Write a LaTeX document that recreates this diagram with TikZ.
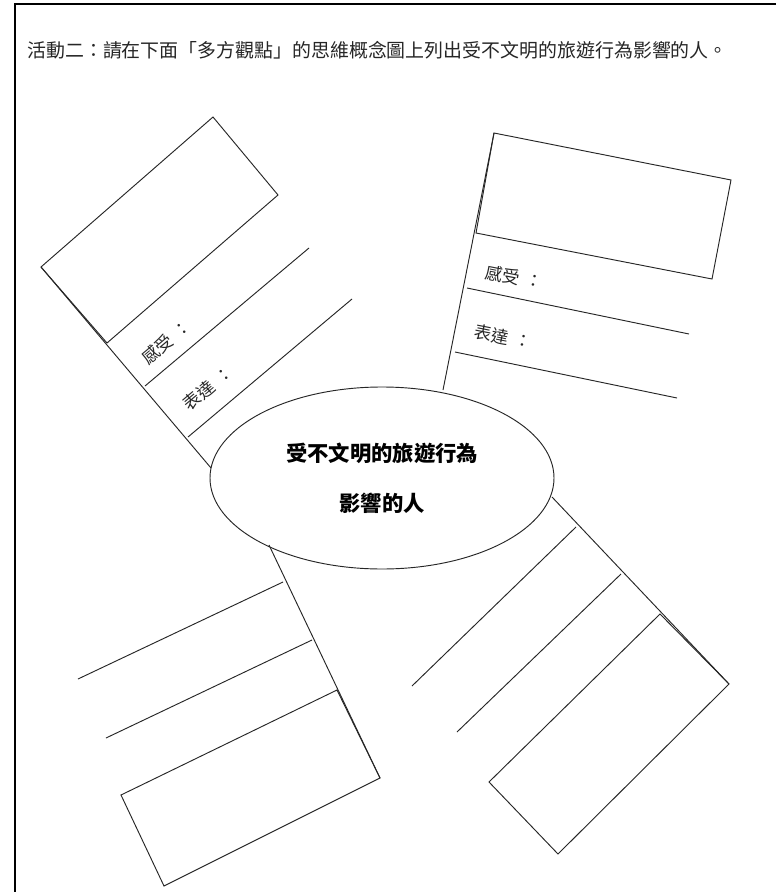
\documentclass[tikz,border=0pt]{standalone}
\usepackage{fontspec}
\newfontfamily\cjk{Noto Sans CJK TC}
\usetikzlibrary{shapes.geometric}
\tikzset{
  shape line/.style={draw=black!85, line width=0.7pt, line join=miter},
  label text/.style={font=\cjk\fontsize{13}{15}\selectfont, text=black!85, inner sep=0pt},
  frame line/.style={draw=black, line width=1.6pt}
}
\begin{document}
\begin{tikzpicture}[x=0.75pt, y=-0.75pt]
\useasboundingbox (0,0) rectangle (776,892);
\fill[white] (0,0) rectangle (776,892);
% frame
\coordinate (ftl) at (15,4);
\coordinate (ftr) at (776,4);
\coordinate (fbl) at (15,892);
\draw[frame line] (ftr) -- (ftl) -- (fbl);
% title
\node[anchor=west, inner sep=0pt, font=\cjk\fontsize{14.2}{16}\selectfont, text=black!85] (title) at (27,50)
  {活動二：請在下面「多方觀點」的思維概念圖上列出受不文明的旅遊行為影響的人。};
% central ellipse
\node[ellipse, shape line, minimum width=258pt, minimum height=136.5pt, inner sep=0pt,
      align=center, font=\cjk\bfseries\fontsize{16}{37.5}\selectfont] (center) at (382,478)
  {受不文明的旅遊行為\\影響的人};

% ---------- upper-left ----------
\coordinate (ula) at (41,267);
\coordinate (ulb) at (213,117);
\coordinate (ulc) at (278,195);
\coordinate (uld) at (107,343);
\coordinate (ule) at (211,468);
\coordinate (ul1a) at (145,386);
\coordinate (ul1b) at (309,248);
\coordinate (ul2a) at (188,437);
\coordinate (ul2b) at (352,299);
\draw[shape line] (ula) -- (ulb) -- (ulc) -- (uld) -- cycle;
\draw[shape line] (ula) -- (ule);
\draw[shape line] (ul1a) -- (ul1b);
\draw[shape line] (ul2a) -- (ul2b);
\node[label text, rotate=40] (ulfeel) at (166,342) {感受\hspace{0.35em}：};
\node[label text, rotate=40] (ulsay) at (208,388) {表達\hspace{0.35em}：};

% ---------- upper-right ----------
\coordinate (ura) at (494,133);
\coordinate (urb) at (731,180);
\coordinate (urc) at (712,279);
\coordinate (urd) at (476,233);
\coordinate (ure) at (443,390);
\coordinate (ur1a) at (467,288);
\coordinate (ur1b) at (689,334);
\coordinate (ur2a) at (455,352);
\coordinate (ur2b) at (677,398);
\draw[shape line] (ura) -- (urb) -- (urc) -- (urd) -- cycle;
\draw[shape line] (ura) -- (ure);
\draw[shape line] (ur1a) -- (ur1b);
\draw[shape line] (ur2a) -- (ur2b);
\node[label text, rotate=-11] (urfeel) at (514,277) {感受\hspace{0.35em}：};
\node[label text, rotate=-11] (ursay) at (503,337) {表達\hspace{0.35em}：};

% ---------- lower-left ----------
\coordinate (lla) at (337,690);
\coordinate (llb) at (380,778);
\coordinate (llc) at (164,886);
\coordinate (lld) at (121,795);
\coordinate (lle) at (269,545);
\coordinate (ll1a) at (283,582);
\coordinate (ll1b) at (78,679);
\coordinate (ll2a) at (312,640);
\coordinate (ll2b) at (106,738);
\draw[shape line] (lla) -- (llb) -- (llc) -- (lld) -- cycle;
\draw[shape line] (lle) -- (llb);
\draw[shape line] (ll1a) -- (ll1b);
\draw[shape line] (ll2a) -- (ll2b);

% ---------- lower-right ----------
\coordinate (lra) at (660,614);
\coordinate (lrb) at (729,684);
\coordinate (lrc) at (558,854);
\coordinate (lrd) at (489,782);
\coordinate (lre) at (552,497);
\coordinate (lr1a) at (576,527);
\coordinate (lr1b) at (412,686);
\coordinate (lr2a) at (621,574);
\coordinate (lr2b) at (457,732);
\draw[shape line] (lra) -- (lrb) -- (lrc) -- (lrd) -- cycle;
\draw[shape line] (lre) -- (lrb);
\draw[shape line] (lr1a) -- (lr1b);
\draw[shape line] (lr2a) -- (lr2b);
\end{tikzpicture}
\end{document}
